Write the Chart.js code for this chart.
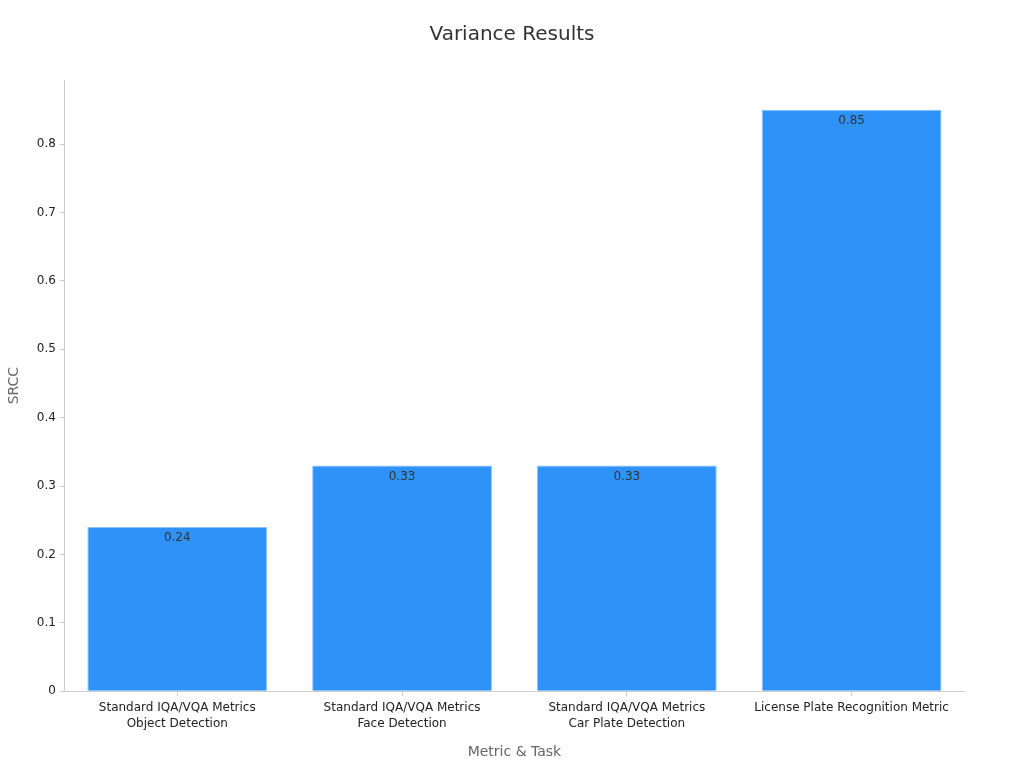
<!DOCTYPE html>
<html>
<head>
<meta charset="utf-8">
<script src="https://cdn.jsdelivr.net/npm/chart.js@4/dist/chart.umd.min.js"></script>
<style>
  html, body { margin: 0; padding: 0; background: #fff; }
  #wrap { width: 1024px; height: 768px; }
</style>
</head>
<body>
<div id="wrap"><canvas id="varianceChart" width="1024" height="768"></canvas></div>
<script>
// Variance Results bar chart
const chartTitle = 'Variance Results';
const categories = [
    ['Standard IQA/VQA Metrics', 'Object Detection'],
    ['Standard IQA/VQA Metrics', 'Face Detection'],
    ['Standard IQA/VQA Metrics', 'Car Plate Detection'],
    'License Plate Recognition Metric'
];
const srccValues = [0.24, 0.33, 0.33, 0.85];
const yTicks = [0, 0.1, 0.2, 0.3, 0.4, 0.5, 0.6, 0.7, 0.8];

// title centred on the whole canvas, not on the plot
const canvasTitle = {
    id: 'canvasTitle',
    afterDraw(chart) {
        const c = chart.ctx;
        c.save();
        c.font = '20px "DejaVu Sans"';
        c.fillStyle = '#333333';
        c.textAlign = 'center';
        c.textBaseline = 'middle';
        c.fillText(chartTitle, chart.width / 2, 35);
        c.restore();
    }
};

// writes the value just inside the top of each bar
const barValueLabels = {
    id: 'barValueLabels',
    afterDatasetsDraw(chart) {
        const c = chart.ctx;
        const meta = chart.getDatasetMeta(0);
        c.save();
        c.font = '12px "DejaVu Sans"';
        c.fillStyle = '#333333';
        c.textAlign = 'center';
        c.textBaseline = 'middle';
        meta.data.forEach((bar, i) => {
            c.fillText(String(srccValues[i]), bar.x, bar.y + 11);
        });
        c.restore();
    }
};

Chart.defaults.font.family = '"DejaVu Sans", sans-serif';

const ctx = document.getElementById('varianceChart').getContext('2d');
const varianceChart = new Chart(ctx, {
    type: 'bar',
    data: {
        labels: categories,
        datasets: [{
            label: 'SRCC',
            data: srccValues,
            backgroundColor: '#2f92f8',
            borderColor: '#8cc2fb',
            borderWidth: 1,
            barPercentage: 0.8,
            categoryPercentage: 1.0
        }]
    },
    options: {
        responsive: false,
        animation: false,
        layout: { padding: { left: 2, right: 60, top: 80, bottom: 3 } },
        plugins: {
            legend: { display: false },
            tooltip: { enabled: false },
            title: { display: false }
        },
        scales: {
            x: {
                grid: { drawOnChartArea: false, offset: false, color: '#cccccc', tickLength: 5 },
                border: { color: '#cccccc' },
                ticks: { color: '#222222', font: { size: 12, lineHeight: 1.33 }, maxRotation: 0, padding: 4 },
                title: { display: true, text: 'Metric & Task', color: '#666666', font: { size: 14 }, padding: { top: 8 } }
            },
            y: {
                min: 0,
                max: 0.8936,
                afterBuildTicks(axis) {
                    axis.ticks = yTicks.map(v => ({ value: v }));
                },
                grid: { drawOnChartArea: false, color: '#cccccc', tickLength: 5 },
                border: { color: '#cccccc' },
                ticks: { color: '#222222', font: { size: 12 }, padding: 4 },
                title: { display: true, text: 'SRCC', color: '#666666', font: { size: 14 }, padding: { bottom: 10 } }
            }
        }
    },
    plugins: [canvasTitle, barValueLabels]
});
</script>
</body>
</html>
